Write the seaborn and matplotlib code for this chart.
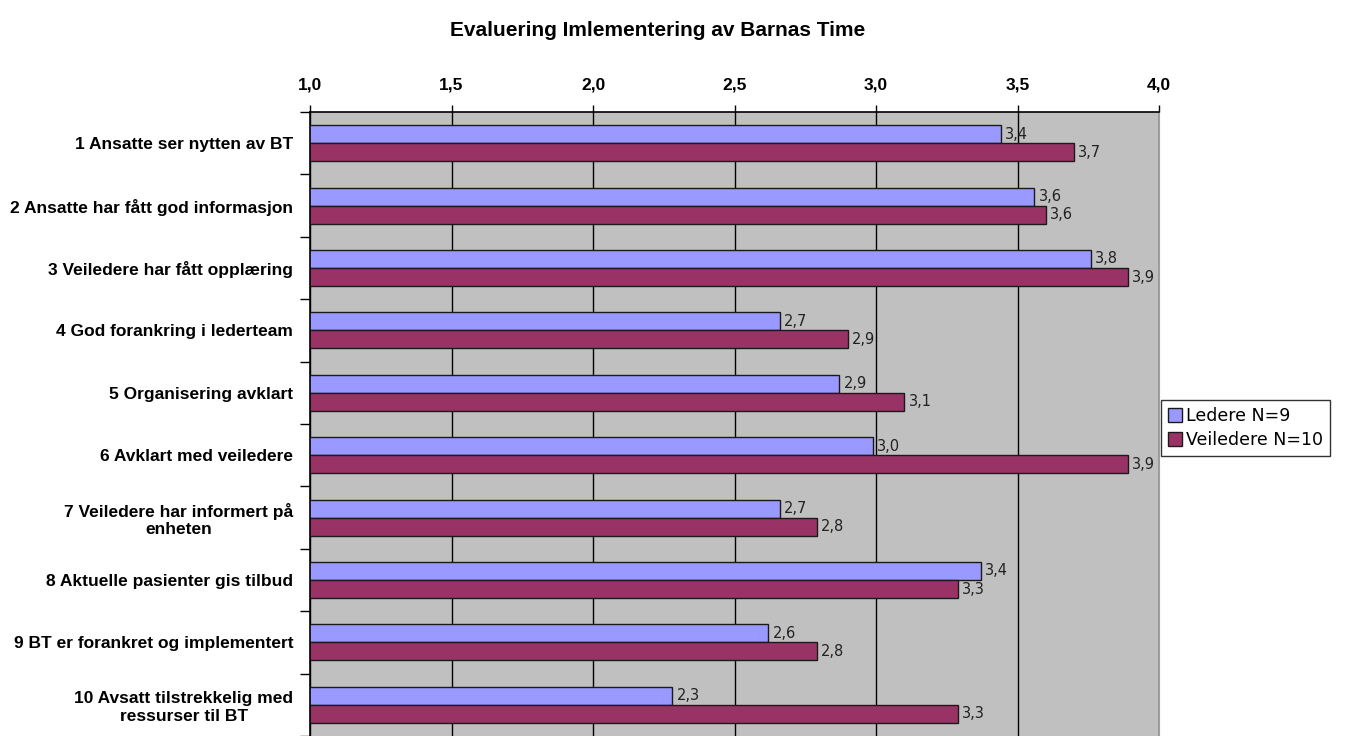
import matplotlib
matplotlib.use("Agg")
import matplotlib.pyplot as plt
import seaborn as sns
import pandas as pd
from matplotlib.ticker import FixedLocator, FuncFormatter

# ---- data ----
categories = [
    "1 Ansatte ser nytten av BT",
    "2 Ansatte har fått god informasjon",
    "3 Veiledere har fått opplæring",
    "4 God forankring i lederteam",
    "5 Organisering avklart",
    "6 Avklart med veiledere",
    "7 Veiledere har informert på\nenheten",
    "8 Aktuelle pasienter gis tilbud",
    "9 BT er forankret og implementert",
    "10 Avsatt tilstrekkelig med\nressurser til BT",
]
ledere = [3.44, 3.56, 3.76, 2.66, 2.87, 2.99, 2.66, 3.37, 2.62, 2.28]
veiledere = [3.70, 3.60, 3.89, 2.90, 3.10, 3.89, 2.79, 3.29, 2.79, 3.29]
series_names = ["Ledere N=9", "Veiledere N=10"]
colors = ["#9999FF", "#993366"]
title = "Evaluering Imlementering av Barnas Time"
x_ticks = [1.0, 1.5, 2.0, 2.5, 3.0, 3.5, 4.0]

df = pd.DataFrame({
    "kategori": categories * 2,
    "verdi": ledere + veiledere,
    "gruppe": [series_names[0]] * len(categories) + [series_names[1]] * len(categories),
})

sns.set_style("white")
plt.rcParams["font.family"] = ["Liberation Sans", "DejaVu Sans"]
plt.rcParams["text.color"] = "black"
plt.rcParams["xtick.color"] = "black"
plt.rcParams["ytick.color"] = "black"
plt.rcParams["xtick.labelcolor"] = "black"
plt.rcParams["ytick.labelcolor"] = "black"

fig = plt.figure(figsize=(13.52, 7.36), dpi=100)
W, H = 1352, 736
ax = fig.add_axes([310 / W, 0.0, (1159 - 310) / W, 1 - 112 / H])
ax.set_facecolor("#C0C0C0")

sns.barplot(data=df, y="kategori", x="verdi", hue="gruppe", orient="h",
            palette=colors, saturation=1, width=0.58, edgecolor="#1a1a1a",
            linewidth=1.0, errorbar=None, ax=ax)

ax.set_xlim(1.0, 4.0)
ax.set_ylim(len(categories) - 0.5, -0.5)
ax.set_xlabel("")
ax.set_ylabel("")

# x axis on top with comma decimals
ax.xaxis.tick_top()
ax.xaxis.set_major_locator(FixedLocator(x_ticks))
ax.xaxis.set_major_formatter(FuncFormatter(lambda v, p: f"{v:.1f}".replace(".", ",")))
ax.tick_params(axis="x", which="major", direction="out", length=5, width=1,
               color="black", pad=9, labelsize=12.5)
for lab in ax.get_xticklabels():
    lab.set_fontweight("bold")

# y axis: labels at centers, ticks at boundaries
ax.set_yticks(range(len(categories)))
ax.set_yticklabels(categories)
ax.yaxis.set_minor_locator(FixedLocator([i - 0.5 for i in range(len(categories) + 1)]))
ax.tick_params(axis="y", which="major", length=0, pad=12, labelsize=12.5)
ax.tick_params(axis="y", which="minor", direction="out", length=7, width=1,
               color="black", left=True)
for lab in ax.get_yticklabels():
    lab.set_fontweight("bold")
    lab.set_multialignment("center")

# grid
ax.grid(axis="x", color="black", linewidth=1)
ax.grid(axis="y", visible=False)
ax.set_axisbelow(True)

for s in ["top", "left"]:
    ax.spines[s].set_visible(True)
    ax.spines[s].set_color("black")
    ax.spines[s].set_linewidth(1.2)
ax.spines["right"].set_visible(True)
ax.spines["right"].set_color("#A0A0A0")
ax.spines["bottom"].set_visible(False)

# value labels
for cont, vals in zip(ax.containers, [ledere, veiledere]):
    ax.bar_label(cont, labels=[f"{v:.1f}".replace(".", ",") for v in vals],
                 padding=3, fontsize=10.5, color="#222222", family="DejaVu Sans")

# legend
handles, labels = ax.get_legend_handles_labels()
if ax.get_legend() is not None:
    ax.get_legend().remove()
leg = fig.legend(handles, labels, loc="center left",
                 bbox_to_anchor=(1161 / W, 1 - 428 / H), bbox_transform=fig.transFigure,
                 frameon=True, fancybox=False, edgecolor="black",
                 prop={"family": "DejaVu Sans", "size": 12.5},
                 handlelength=0.8, handleheight=0.8, handletextpad=0.25,
                 borderpad=0.4, labelspacing=0.35, borderaxespad=0)
leg.get_frame().set_linewidth(1.0)

fig.text(658 / W, 1 - 30 / H, title, ha="center", va="center",
         fontsize=15, fontweight="bold")

fig.savefig("out.png", dpi=100, facecolor="white")
